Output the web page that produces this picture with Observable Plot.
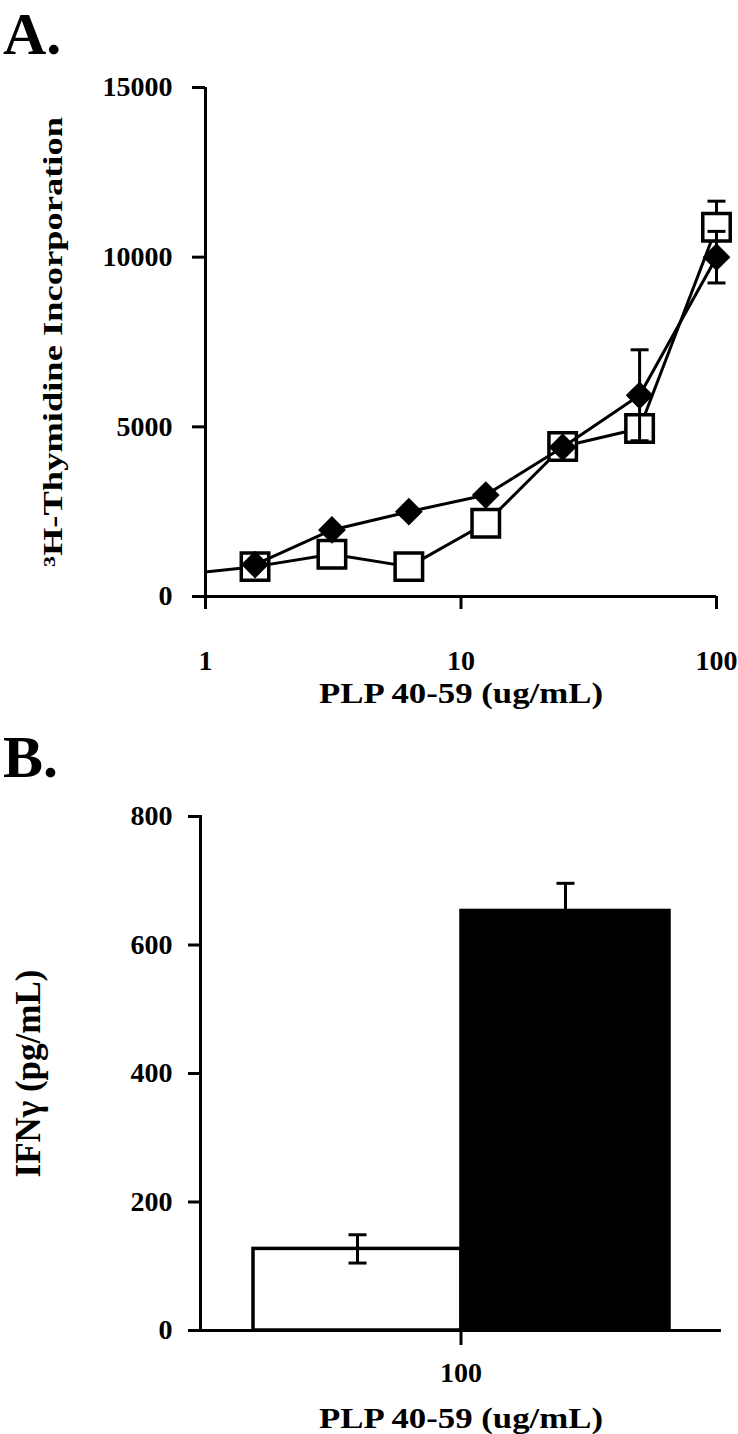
<!DOCTYPE html>
<html><head><meta charset="utf-8">
<script src="https://cdn.jsdelivr.net/npm/d3@7"></script>
<script src="https://cdn.jsdelivr.net/npm/@observablehq/plot@0.6"></script>
<style>
html,body{margin:0;padding:0;background:#fff;}
#page{position:relative;width:738px;height:1434px;overflow:hidden;font-family:"Liberation Serif","Times New Roman",serif;font-weight:bold;color:#000;}
.panel-letter{position:absolute;left:3px;font-size:60px;line-height:1;}
#plotA{position:absolute;left:0;top:0;}
#plotB{position:absolute;left:0;top:780px;}
</style></head><body>
<div id="page">
<div id="plotA"></div><div id="plotB"></div>
<div class="panel-letter" style="top:4px">A.</div>
<div class="panel-letter" style="top:727px">B.</div>
</div>
<script>
// ---- Panel A data ----
const doses = [0.78125, 1.5625, 3.125, 6.25, 12.5, 25, 50, 100];
const filledValues = [null, 940, 1960, 2500, 2990, 4400, 5930, 10000];
const filledErrors = [0, 0, 0, 0, 0, 0, 1340, 760];
const openValues = [640, 880, 1245, 880, 2160, 4420, 4950, 10880];
const openErrors = [0, 0, 0, 0, 0, 0, 0, 770];
const xDomainA = [1, 100];
const xTicksA = [1, 10, 100];
const yDomainA = [0, 15000];
const yTicksA = [0, 5000, 10000, 15000];
const yLabelA = "\u00B3H-Thymidine Incorporation";
const xLabel = "PLP 40-59 (ug/mL)";

// ---- Panel B data ----
const doseB = "100";
const groupsB = ["open", "filled"];
const ifngValues = [127, 653];
const ifngErrors = [22, 43];
const yDomainB = [0, 800];
const yTicksB = [0, 200, 400, 600, 800];
const yLabelB = "IFN\u03B3 (pg/mL)";

const font = '"Liberation Serif", "Times New Roman", serif';
const capSymbol = {draw(ctx, size) { const w = Math.sqrt(size / Math.PI); ctx.moveTo(-w, 0); ctx.lineTo(w, 0); }};

function setLabel(svg, aria, size, len) {
  const t = svg.querySelector(`g[aria-label="${aria}"] text`);
  if (!t) return;
  t.setAttribute("font-size", size);
  if (len) { t.setAttribute("textLength", len); t.setAttribute("lengthAdjust", "spacingAndGlyphs"); }
}

// Panel A
const rowsA = doses.map((x, i) => ({x, filled: filledValues[i], open: openValues[i], fe: filledErrors[i], oe: openErrors[i]}));
const openRows = rowsA.filter(d => d.open != null);
const filledRows = rowsA.filter(d => d.filled != null);
const inDomain = d => d.x >= xDomainA[0];
const openErr = openRows.filter(d => d.oe > 0).map(d => ({x: d.x, lo: d.open - d.oe, hi: d.open + d.oe}));
const filledErr = filledRows.filter(d => d.fe > 0).map(d => ({x: d.x, lo: d.filled - d.fe, hi: d.filled + d.fe}));
const caps = rows => rows.flatMap(d => [{x: d.x, y: d.lo}, {x: d.x, y: d.hi}]);

const plotA = Plot.plot({
  width: 738, height: 720,
  marginLeft: 205, marginRight: 22, marginTop: 87, marginBottom: 124,
  style: {fontFamily: font, fontWeight: "bold", fontSize: "28px", color: "black", background: "white", overflow: "visible"},
  x: {type: "log", domain: xDomainA},
  y: {domain: yDomainA},
  marks: [
    Plot.axisY({ticks: yTicksA, tickFormat: d3.format("d"), tickSize: 13, tickPadding: 20, strokeWidth: 3,
      label: yLabelA, labelAnchor: "center", labelOffset: 163, labelArrow: "none"}),
    Plot.axisX({ticks: xTicksA, tickFormat: d3.format("d"), tickSize: 13, tickPadding: 41, strokeWidth: 3,
      label: xLabel, labelAnchor: "center", labelOffset: 106, labelArrow: "none"}),
    Plot.ruleY([yDomainA[0]], {strokeWidth: 3}),
    Plot.ruleX([xDomainA[0]], {strokeWidth: 3}),
    Plot.ruleX(openErr, {x: "x", y1: "lo", y2: "hi", strokeWidth: 3}),
    Plot.dot(caps(openErr), {x: "x", y: "y", symbol: capSymbol, r: 9, stroke: "black", strokeWidth: 3}),
    Plot.line(openRows, {x: "x", y: "open", stroke: "black", strokeWidth: 3, clip: true}),
    Plot.dot(openRows, {filter: inDomain, x: "x", y: "open", symbol: "square", r: 15.5, fill: "white", stroke: "black", strokeWidth: 3.5}),
    Plot.line(filledRows, {x: "x", y: "filled", stroke: "black", strokeWidth: 3, clip: true}),
    Plot.dot(filledRows, {filter: inDomain, x: "x", y: "filled", symbol: "diamond2", r: 12.5, fill: "black"}),
    Plot.ruleX(filledErr, {x: "x", y1: "lo", y2: "hi", strokeWidth: 3}),
    Plot.dot(caps(filledErr), {x: "x", y: "y", symbol: capSymbol, r: 9, stroke: "black", strokeWidth: 3})
  ]
});
setLabel(plotA, "y-axis label", 27, 450);
setLabel(plotA, "x-axis label", 30, 284);
document.getElementById("plotA").appendChild(plotA);

// Panel B
const rowsB = groupsB.map((g, i) => ({dose: doseB, group: g, value: ifngValues[i], err: ifngErrors[i]}));
const capsB = rowsB.flatMap(d => [{dose: d.dose, group: d.group, y: d.value - d.err}, {dose: d.dose, group: d.group, y: d.value + d.err}]);

const plotB = Plot.plot({
  width: 738, height: 654,
  marginLeft: 200, marginRight: 17, marginTop: 36, marginBottom: 104,
  style: {fontFamily: font, fontWeight: "bold", fontSize: "28px", color: "black", background: "white", overflow: "visible"},
  fx: {domain: [doseB], padding: 0},
  x: {domain: groupsB, paddingInner: 0, paddingOuter: 0.2524, axis: null},
  y: {domain: yDomainB},
  color: {domain: groupsB, range: ["white", "black"]},
  marks: [
    Plot.axisFx({anchor: "bottom", tickSize: 15, tickPadding: 17, strokeWidth: 3,
      label: xLabel, labelAnchor: "center", labelOffset: 97, labelArrow: "none"}),
    Plot.axisY({ticks: yTicksB, tickFormat: d3.format("d"), tickSize: 12, tickPadding: 16, strokeWidth: 3,
      label: yLabelB, labelAnchor: "center", labelOffset: 185, labelArrow: "none"}),
    Plot.barY(rowsB, {fx: "dose", x: "group", y: "value", fill: "group", stroke: "black", strokeWidth: 3.5}),
    Plot.ruleY([yDomainB[0]], {strokeWidth: 3}),
    Plot.frame({anchor: "left", strokeWidth: 3}),
    Plot.ruleX(rowsB, {fx: "dose", x: "group", y1: d => d.value - d.err, y2: d => d.value + d.err, strokeWidth: 3}),
    Plot.dot(capsB, {fx: "dose", x: "group", y: "y", symbol: capSymbol, r: 9, stroke: "black", strokeWidth: 3})
  ]
});
setLabel(plotB, "y-axis label", 35);
setLabel(plotB, "fx-axis label", 30, 284);
document.getElementById("plotB").appendChild(plotB);
</script>
</body></html>
